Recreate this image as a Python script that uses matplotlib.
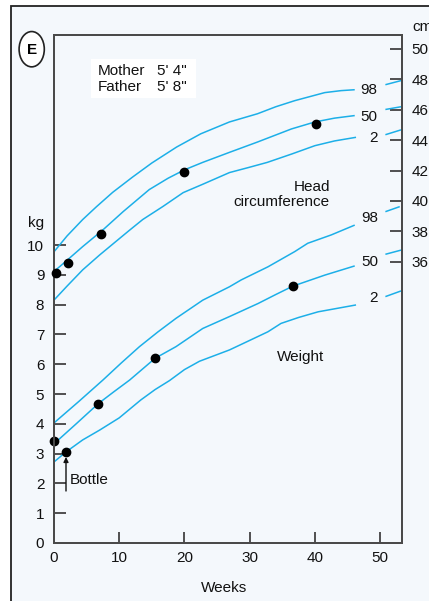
import numpy as np
import matplotlib
matplotlib.use("Agg")
import matplotlib.pyplot as plt
from matplotlib.patches import Rectangle, Circle

plt.rcParams['font.family'] = ['Liberation Sans', 'DejaVu Sans']

# ---------------- data ----------------
# Head circumference centiles (cm), NaN separates the short tail after the label
head_weeks_98 = [0, 2.0, 4.4, 6.5, 9.0, 12.0, 15.0, 18.8, 22.5, 26.9, 31.2, 34.0, 36.9, 41.5, 44.0, 46.1, np.nan, 50.8, 53.2]
head_cm_98    = [36.66, 37.7, 38.78, 39.62, 40.57, 41.56, 42.5, 43.55, 44.42, 45.2, 45.74, 46.2, 46.6, 47.13, 47.26, 47.32, np.nan, 47.65, 47.92]
head_weeks_50 = [0, 2.0, 4.4, 7.5, 10.6, 14.6, 17.5, 20.0, 22.8, 26.9, 31.2, 36.4, 40.0, 43.0, 46.1, np.nan, 50.8, 53.2]
head_cm_50    = [35.36, 36.1, 37.0, 38.1, 39.3, 40.75, 41.5, 42.05, 42.54, 43.2, 43.88, 44.74, 45.2, 45.45, 45.62, np.nan, 46.02, 46.2]
head_weeks_2  = [0, 2.0, 4.4, 7.0, 9.5, 11.5, 13.6, 16.7, 19.8, 22.8, 26.9, 29.8, 32.7, 36.5, 40.0, 43.0, 46.3, np.nan, 50.8, 53.2]
head_cm_2     = [33.48, 34.4, 35.47, 36.45, 37.34, 38.05, 38.78, 39.64, 40.55, 41.1, 41.87, 42.2, 42.54, 43.1, 43.64, 43.95, 44.19, np.nan, 44.36, 44.68]

# Weight centiles (kg)
wt_weeks_98 = [0, 3.8, 7.5, 10.3, 13.1, 15.9, 18.7, 22.8, 26.9, 28.7, 32.8, 36.9, 38.9, 42.5, 46.1, np.nan, 50.8, 53.0]
wt_kg_98    = [4.03, 4.75, 5.47, 6.04, 6.59, 7.08, 7.54, 8.15, 8.6, 8.83, 9.27, 9.78, 10.06, 10.34, 10.67, np.nan, 11.12, 11.29]
wt_weeks_50 = [0, 3.4, 6.8, 9.2, 11.6, 15.5, 18.7, 22.8, 26.9, 31.3, 34.0, 36.6, 41.5, 46.1, np.nan, 50.8, 53.2]
wt_kg_50    = [3.33, 4.0, 4.68, 5.08, 5.47, 6.2, 6.59, 7.2, 7.6, 8.04, 8.34, 8.62, 8.99, 9.3, np.nan, 9.69, 9.83]
wt_weeks_2  = [0, 1.8, 4.4, 7.0, 10.0, 13.3, 15.5, 17.7, 20.0, 22.3, 26.9, 30.0, 32.8, 34.8, 37.5, 40.5, 46.3, np.nan, 50.8, 53.2]
wt_kg_2     = [2.72, 3.05, 3.46, 3.79, 4.2, 4.8, 5.15, 5.45, 5.82, 6.1, 6.48, 6.8, 7.09, 7.37, 7.57, 7.76, 7.99, np.nan, 8.27, 8.46]

# Measurements of the child
head_obs_weeks = [0.3, 2.2, 7.2, 20.0, 40.1]
head_obs_cm    = [35.27, 35.93, 37.85, 41.91, 45.07]
wt_obs_weeks   = [0, 1.8, 6.8, 15.5, 36.6]
wt_obs_kg      = [3.42, 3.07, 4.65, 6.22, 8.62]

x_ticks = [0, 10, 20, 30, 40, 50]
kg_ticks = list(range(0, 11))
cm_ticks = list(range(36, 51, 2))
centile_labels = ['98', '50', '2']

# ---------------- figure ----------------
W, H = 429, 601
fig = plt.figure(figsize=(W / 100, H / 100), dpi=100)
fig.patch.set_facecolor('white')
bg = '#f4f8fc'
line_c = '#1cafe8'
spine_c = '#4a4a4a'

def fx(px):
    return px / W

def fy(py):
    return 1 - py / H

# outer panel
fig.add_artist(Rectangle((fx(11), -0.02), 1.1, fy(6) + 0.02, transform=fig.transFigure,
                         facecolor=bg, edgecolor='#222222', lw=1.3, zorder=0))

ax = fig.add_axes([fx(54), fy(543), (401.7 - 54) / W, (543 - 35) / H])
ax.set_facecolor(bg)
ax.set_xlim(0, 53.3)
ax.set_ylim(0, 17.05)
ax2 = ax.twinx()
ax2.set_ylim(17.5, 50.92)

for a in (ax, ax2):
    for s in a.spines.values():
        s.set_color(spine_c)
        s.set_linewidth(1.4)

fs = 11
ax.set_xticks(x_ticks)
ax.set_yticks(kg_ticks)
ax2.set_yticks(cm_ticks)
ax.tick_params(axis='x', direction='in', length=8, width=1.2, color='#333333',
               labelsize=fs, pad=6, top=False, labelcolor='#111111')
ax.tick_params(axis='y', direction='in', length=8.6, width=1.2, color='#333333',
               labelsize=fs, pad=7, labelcolor='#111111')
ax2.tick_params(axis='y', direction='in', length=8.6, width=1.2, color='#333333',
                labelsize=fs, pad=7, labelcolor='#111111')

lw = 1.1
for wk, v in [(head_weeks_98, head_cm_98), (head_weeks_50, head_cm_50), (head_weeks_2, head_cm_2)]:
    ax2.plot(wk, v, color=line_c, lw=lw, solid_capstyle='butt', solid_joinstyle='round')
for wk, v in [(wt_weeks_98, wt_kg_98), (wt_weeks_50, wt_kg_50), (wt_weeks_2, wt_kg_2)]:
    ax.plot(wk, v, color=line_c, lw=lw, solid_capstyle='butt', solid_joinstyle='round')

ax2.plot(head_obs_weeks, head_obs_cm, 'o', color='black', ms=6, clip_on=False, zorder=5)
ax.plot(wt_obs_weeks, wt_obs_kg, 'o', color='black', ms=6, clip_on=False, zorder=5)

tc = '#111111'
# centile labels
for lab, (px, py) in zip(centile_labels, [(369, 90), (369, 116.5), (373, 138)]):
    fig.text(fx(px), fy(py), lab, ha='center', va='center', fontsize=fs, color=tc)
for lab, (px, py) in zip(centile_labels, [(370, 218), (370, 262), (373, 298)]):
    fig.text(fx(px), fy(py), lab, ha='center', va='center', fontsize=fs, color=tc)

# axis unit labels
fig.text(fx(44), fy(223), 'kg', ha='right', va='center', fontsize=fs, color=tc)
fig.text(fx(412), fy(27), 'cm', ha='left', va='center', fontsize=fs, color=tc)
fig.text(fx(224), fy(588), 'Weeks', ha='center', va='center', fontsize=fs, color=tc)

# annotations
fig.text(fx(330), fy(187), 'Head', ha='right', va='center', fontsize=fs, color=tc)
fig.text(fx(330), fy(202), 'circumference', ha='right', va='center', fontsize=fs, color=tc)
fig.text(fx(301), fy(357), 'Weight', ha='center', va='center', fontsize=fs, color=tc)
fig.text(fx(70), fy(480), 'Bottle', ha='left', va='center', fontsize=fs, color=tc)
ax.annotate('', xy=(fx(66), fy(457)), xytext=(fx(66), fy(491)),
            xycoords='figure fraction', textcoords='figure fraction',
            arrowprops=dict(arrowstyle='-|>', color='#111111', lw=1.0,
                            mutation_scale=7, shrinkA=0, shrinkB=0))

# parents' heights box
fig.add_artist(Rectangle((fx(91), fy(98)), (196 - 91) / W, (98 - 59) / H,
                         transform=fig.transFigure, facecolor='white',
                         edgecolor='none', zorder=3))
for txt, px, py in [('Mother', 98, 71), ('5\' 4"', 157, 71),
                    ('Father', 98, 87), ('5\' 8"', 157, 87)]:
    fig.text(fx(px), fy(py), txt, ha='left', va='center', fontsize=fs, color=tc, zorder=4)

# panel letter
fig.add_artist(Circle((fx(31.7), fy(49.2)), 12.6 / W, transform=fig.transFigure,
                      facecolor='white', edgecolor='#222222', lw=1.2, zorder=3))
fig.text(fx(31.7), fy(49.5), 'E', ha='center', va='center', fontsize=11,
         fontweight='bold', zorder=4)

fig.savefig('out.png', dpi=100, facecolor='white')
